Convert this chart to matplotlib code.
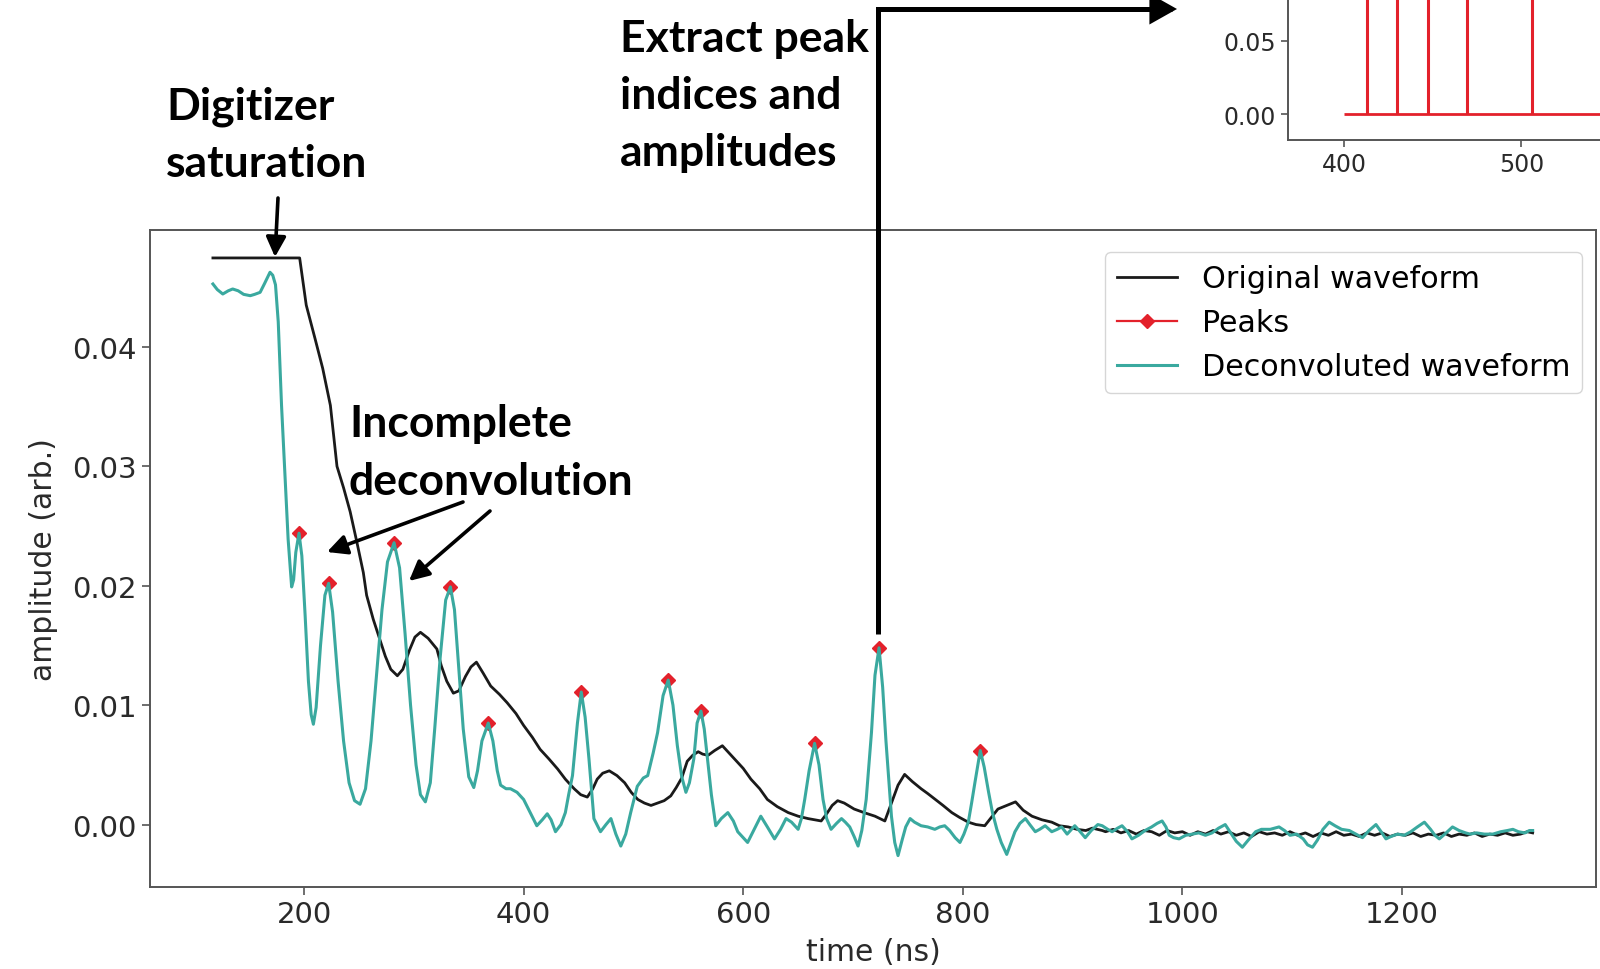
import matplotlib
matplotlib.use('Agg')
import matplotlib.pyplot as plt
from matplotlib.lines import Line2D
from matplotlib.patches import FancyArrowPatch
from matplotlib.path import Path
from matplotlib.ticker import MultipleLocator

# original (saturated) waveform
orig_t = [117, 196, 202, 210, 217, 224, 230, 236, 242, 248, 254, 257, 263, 269, 274, 279, 285, 290,
          296, 301, 306, 313, 321, 325, 330, 336, 341, 347, 352, 357, 363, 370, 378, 385, 393, 400,
          408, 415, 423, 431, 438, 446, 452, 458, 463, 467, 472, 478, 485, 492, 498, 504, 510, 516,
          522, 528, 534, 539, 544, 549, 554, 559, 563, 568, 574, 581, 586, 592, 600, 607, 615, 622,
          631, 641, 650, 659, 665, 671, 676, 681, 686, 692, 701, 710, 720, 729, 735, 741, 747, 754,
          762, 768, 775, 782, 790, 797, 805, 812, 820, 826, 832, 840, 848, 855, 863, 872, 881, 888,
          896, 904, 912, 918, 927, 930, 937, 944, 951, 958, 965, 972, 979, 986, 993, 1000, 1007,
          1014, 1021, 1028, 1035, 1042, 1049, 1056, 1063, 1070, 1077, 1084, 1091, 1098, 1105, 1112,
          1119, 1126, 1133, 1140, 1147, 1154, 1161, 1168, 1175, 1182, 1189, 1196, 1203, 1210, 1217,
          1224, 1231, 1238, 1245, 1252, 1259, 1266, 1273, 1280, 1287, 1294, 1301, 1308, 1314, 1319]
orig_v = [0.04745, 0.04745, 0.0435, 0.0407, 0.0382, 0.0351, 0.0300, 0.0282, 0.0262, 0.0237, 0.0211,
          0.0192, 0.0172, 0.0155, 0.0141, 0.0130, 0.01246, 0.0130, 0.0146, 0.0157, 0.0161, 0.0156,
          0.0147, 0.0133, 0.0120, 0.0110, 0.0112, 0.0124, 0.0132, 0.0136, 0.0127, 0.0116, 0.0109,
          0.0102, 0.0093, 0.0083, 0.0073, 0.0063, 0.0055, 0.00465, 0.0038, 0.0030, 0.0025, 0.0023,
          0.0030, 0.0038, 0.0043, 0.0045, 0.0041, 0.0035, 0.0027, 0.0021, 0.0018, 0.0016, 0.0018,
          0.0020, 0.0024, 0.0031, 0.0039, 0.0053, 0.0058, 0.0061, 0.0059, 0.0058, 0.0062, 0.0066,
          0.0061, 0.0055, 0.0047, 0.0038, 0.0030, 0.0021, 0.0015, 0.0010, 0.0007, 0.0005, 0.0004,
          0.0003, 0.0009, 0.0016, 0.0020, 0.0018, 0.0013, 0.0010, 0.0007, 0.0003, 0.0018, 0.0033,
          0.0042, 0.0036, 0.0030, 0.0026, 0.0021, 0.0016, 0.0010, 0.0006, 0.0002, 0.0000, -0.0001,
          0.0006, 0.0013, 0.0016, 0.0019, 0.0012, 0.0007, 0.0004, 0.0002, -0.0001, -0.0002, -0.0004,
          -0.0005, -0.0003, -0.0005, -0.0006, -0.0004, -0.0007, -0.0005, -0.0008, -0.0005, -0.0006,
          -0.0009, -0.0005, -0.0007, -0.0006, -0.0009, -0.0006, -0.0008, -0.0005, -0.0008, -0.0006,
          -0.0009, -0.0007, -0.0010, -0.0006, -0.0008, -0.0007, -0.0009, -0.0006, -0.0009, -0.0007,
          -0.0010, -0.0007, -0.0009, -0.0006, -0.0009, -0.0008, -0.0010, -0.0007, -0.0009, -0.0007,
          -0.0010, -0.0008, -0.0009, -0.0007, -0.0010, -0.0008, -0.0009, -0.0007, -0.0010, -0.0008,
          -0.0009, -0.0007, -0.0010, -0.0008, -0.0009, -0.0007, -0.0009, -0.0008, -0.0006, -0.0007]

# deconvoluted waveform
deconv_t = [117, 121, 126, 131, 135, 140, 145, 151, 155, 160, 164, 169, 171.5, 174, 176.5, 179.5,
            182.5, 185.5, 188.7, 190.5, 192.5, 195.4, 198, 201, 204, 206.5, 208.5, 211, 215, 219,
            222.4, 226, 231, 236, 241, 246, 251, 256, 261, 266, 271, 276, 282, 287, 292, 297, 302,
            306, 310.5, 315, 319, 324, 329, 333.3, 337, 341, 345, 350, 354.6, 358, 362, 367.8, 372,
            376, 379, 384, 388, 394, 400, 406, 412, 417, 421.5, 425, 429, 434, 438, 441, 444.5, 449,
            452.5, 456, 459.5, 464, 470, 475, 479.5, 484, 488.5, 493, 497.5, 503.5, 509, 513, 518,
            522, 527, 531.7, 536, 540, 544, 547.8, 551, 555, 558, 561.5, 564.5, 567.5, 571, 575,
            580, 586, 591, 595, 604, 610, 616, 622, 628.5, 634, 639, 644, 650, 653, 656, 660, 665,
            669, 672.7, 676, 680, 685, 689.5, 693, 697, 701, 704.6, 708, 712, 716.8, 720, 723.7,
            727, 730, 735, 738, 741, 745, 748, 752, 756, 762, 768, 774.5, 779, 783.5, 788, 793,
            797.4, 801, 805, 808, 811, 815.9, 819.5, 823.5, 827, 831, 835, 840, 844, 847.5, 852,
            857, 861, 866, 870, 875, 881, 886, 890, 895, 902, 906, 911.5, 917, 923, 927, 932, 936,
            941, 945, 950, 954, 960, 966, 972, 977, 981.5, 985, 988, 992, 997, 1003, 1009, 1015,
            1021, 1027, 1033, 1039, 1044, 1049, 1054.6, 1060, 1066.7, 1072, 1080, 1088, 1093, 1098,
            1104, 1110, 1114, 1118.5, 1123, 1128, 1133.7, 1139, 1145, 1152, 1158, 1164, 1170,
            1176.3, 1181, 1185.4, 1190, 1196, 1202, 1208, 1214, 1220.4, 1226, 1230, 1234, 1239,
            1246, 1252, 1258, 1262, 1268, 1275, 1282.8, 1290, 1296, 1301, 1306, 1312, 1316, 1319]
deconv_v = [0.04527, 0.0448, 0.04443, 0.0447, 0.04485, 0.0447, 0.0444, 0.04429, 0.0444, 0.04457,
            0.0453, 0.04625, 0.0460, 0.0452, 0.0421, 0.0351, 0.0295, 0.0239, 0.0199, 0.0205, 0.0228,
            0.0244, 0.0225, 0.0175, 0.0120, 0.0092, 0.0084, 0.0098, 0.0150, 0.0192, 0.0202, 0.0178,
            0.0120, 0.0070, 0.0035, 0.0020, 0.0017, 0.0030, 0.0070, 0.0125, 0.0180, 0.0220, 0.0236,
            0.0215, 0.0160, 0.0100, 0.0050, 0.0025, 0.0019, 0.0035, 0.0080, 0.0140, 0.0188, 0.0199,
            0.0180, 0.0130, 0.0080, 0.0040, 0.0031, 0.0045, 0.0070, 0.0085, 0.0070, 0.0045, 0.0033,
            0.0030, 0.0030, 0.0027, 0.0021, 0.0010, -0.0001, 0.0004, 0.0009, 0.0004, -0.0006, 0.0000,
            0.0010, 0.0025, 0.0041, 0.0085, 0.0111, 0.0090, 0.0055, 0.0005, -0.0006, 0.0000, 0.0005,
            -0.0008, -0.0018, -0.0008, 0.0010, 0.0032, 0.0039, 0.0041, 0.0060, 0.0077, 0.0108,
            0.0121, 0.0100, 0.0066, 0.0040, 0.0027, 0.0035, 0.0055, 0.0085, 0.0095, 0.0080, 0.0055,
            0.0025, -0.0001, 0.0005, 0.0010, 0.0003, -0.0006, -0.0015, -0.0004, 0.0007, -0.0002,
            -0.0012, -0.0004, 0.0005, 0.0002, -0.0004, 0.0005, 0.0021, 0.0045, 0.0068, 0.0050,
            0.0021, 0.0005, -0.0004, 0.0001, 0.0005, 0.0002, -0.0002, -0.0010, -0.0018, -0.0005,
            0.0021, 0.0077, 0.0125, 0.0148, 0.0115, 0.0070, 0.0007, -0.0015, -0.0026, -0.0012,
            -0.0002, 0.0005, 0.0002, -0.0001, -0.0002, -0.0004, -0.0002, -0.0001, -0.0005, -0.0011,
            -0.0015, -0.0008, 0.0002, 0.0018, 0.0035, 0.0062, 0.0048, 0.0027, 0.0010, -0.0004,
            -0.0015, -0.0025, -0.0015, -0.0006, 0.0001, 0.0005, 0.0000, -0.0006, -0.0004, -0.0001,
            -0.0006, -0.0004, -0.0002, -0.0008, -0.0001, -0.0005, -0.0011, -0.0005, 0.0000, -0.0001,
            -0.0004, -0.0006, -0.0003, -0.0001, -0.0006, -0.0012, -0.0009, -0.0005, -0.0002, 0.0001,
            0.0003, -0.0002, -0.0009, -0.0011, -0.0012, -0.0009, -0.0008, -0.0007, -0.0009, -0.0007,
            -0.0003, 0.0000, -0.0007, -0.0014, -0.0019, -0.0013, -0.0006, -0.0004, -0.0004, -0.0002,
            -0.0005, -0.0009, -0.0008, -0.0012, -0.0017, -0.0019, -0.0013, -0.0004, 0.0002, -0.0001,
            -0.0004, -0.0005, -0.0008, -0.0011, -0.0005, 0.0000, -0.0006, -0.0012, -0.0010, -0.0008,
            -0.0009, -0.0006, -0.0002, 0.0002, -0.0004, -0.0009, -0.0012, -0.0008, -0.0002, -0.0005,
            -0.0007, -0.0008, -0.0007, -0.0008, -0.0008, -0.0006, -0.0005, -0.0004, -0.0006,
            -0.0007, -0.0005, -0.0005]

# detected peaks
peak_t = [195.4, 222.4, 282, 333.3, 367.8, 452.5, 531.7, 561.5, 665, 723.7, 815.9]
peak_v = [0.0244, 0.0202, 0.0236, 0.0199, 0.0085, 0.0111, 0.0121, 0.0095, 0.0068, 0.0148, 0.0062]

# inset: extracted peak train (tops are cut off by the figure edge)
stem_t = [412.8, 429.7, 447.3, 469.3, 506.2]
stem_h = [0.10, 0.09, 0.11, 0.095, 0.105]
train_start, train_end = 400, 760
inset_xticks = [400, 500]
inset_yticks = [0.00, 0.05]

W, H = 1600, 970
BLACK = '#1a1a1a'
TEAL = '#3aa99f'
RED = '#e3212b'
GREY = '#555555'
LABEL = '#2a2a2a'


def fxy(x, y):
    # pixel position from the top-left corner -> figure fraction
    return x / W, 1 - y / H


fig = plt.figure(figsize=(W / 100, H / 100), dpi=100)

ax = fig.add_axes([150 / W, 1 - 888 / H, (1596 - 150) / W, (888 - 231) / H])
ax.plot(orig_t, orig_v, color=BLACK, lw=2.0, zorder=2)
ax.plot(peak_t, peak_v, ls='none', marker='D', ms=7.5, color=RED, zorder=3)
ax.plot(deconv_t, deconv_v, color=TEAL, lw=2.2, zorder=4)
ax.set_xlim(59.7, 1376.7)
ax.set_ylim(-0.00523, 0.04979)
ax.xaxis.set_major_locator(MultipleLocator(200))
ax.yaxis.set_major_locator(MultipleLocator(0.01))
ax.tick_params(labelsize=21, length=6, width=1.2, color=GREY, labelcolor=LABEL)
for s in ax.spines.values():
    s.set_color(GREY)
    s.set_linewidth(1.4)
ax.set_xlabel('time (ns)', fontsize=21.5, color=LABEL, labelpad=6)
ax.set_ylabel('amplitude (arb.)', fontsize=21.5, color=LABEL, labelpad=10)

handles = [Line2D([], [], color=BLACK, lw=2.0),
           Line2D([], [], color=RED, lw=1.6, marker='D', ms=7.5),
           Line2D([], [], color=TEAL, lw=2.2)]
ax.legend(handles, ['Original waveform', 'Peaks', 'Deconvoluted waveform'],
          loc='upper right', bbox_to_anchor=fxy(1582, 253), bbox_transform=fig.transFigure,
          borderaxespad=0, fontsize=21.7, edgecolor='#cccccc')

# inset with the extracted peaks, partly outside the canvas
ins = fig.add_axes([1288 / W, 1 - 141 / H, 588 / W, 202 / H])
ins.hlines(0, train_start, train_end, color=RED, lw=2)
ins.vlines(stem_t, 0, stem_h, color=RED, lw=2.2)
ins.set_xlim(368.4, 700)
ins.set_ylim(-0.0177, 0.12)
ins.set_xticks(inset_xticks)
ins.set_yticks(inset_yticks)
ins.tick_params(labelsize=17, length=5, width=1.2, color=GREY, labelcolor=LABEL)
for s in ins.spines.values():
    s.set_color(GREY)
    s.set_linewidth(1.4)

# annotations
tkw = dict(fontsize=32, fontweight='bold', family=['Lato', 'DejaVu Sans'],
           ha='left', va='center', linespacing=1.53, color='black')
fig.text(*fxy(166, 135), 'Digitizer\nsaturation', **tkw)
fig.text(*fxy(349, 453), 'Incomplete\ndeconvolution', **tkw)
fig.text(*fxy(620, 96), 'Extract peak\nindices and\namplitudes', **tkw)

akw = dict(transform=fig.transFigure, arrowstyle='-|>,head_length=0.8,head_width=0.4',
           mutation_scale=15, lw=2.6, color='black', shrinkA=0, shrinkB=0)
fig.add_artist(FancyArrowPatch(fxy(278, 199), fxy(275, 258), **akw))
fig.add_artist(FancyArrowPatch(fxy(463, 503), fxy(327, 553), **akw))
fig.add_artist(FancyArrowPatch(fxy(490, 512), fxy(409, 582), **akw))

link = Path([fxy(878, 635), fxy(878, 10), fxy(1177, 10)])
fig.add_artist(FancyArrowPatch(path=link, transform=fig.transFigure,
                               arrowstyle='-|>,head_length=0.8,head_width=0.45',
                               mutation_scale=18, lw=3.6, color='black',
                               joinstyle='miter', capstyle='butt'))

fig.savefig('out.png', dpi=100)
